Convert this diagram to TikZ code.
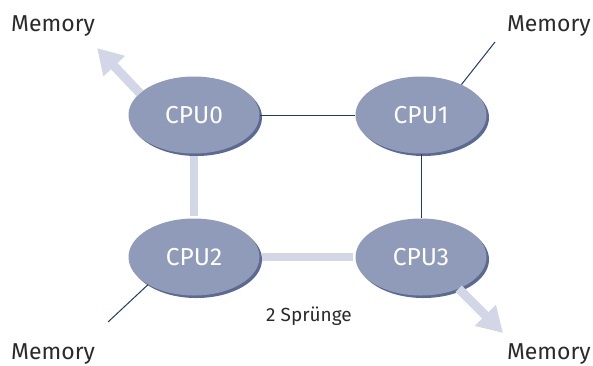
\documentclass[tikz,border=0pt]{standalone}
\usepackage{fontspec}
\setmainfont{Fira Sans}
\usetikzlibrary{arrows.meta,shapes.geometric}
\definecolor{cpufill}{HTML}{8F9BB8}
\definecolor{cpushade}{HTML}{5A6A92}
\definecolor{linkblue}{HTML}{1F3A6E}
\definecolor{paler}{HTML}{D3D6E6}
\definecolor{labeltext}{HTML}{2A2A2A}
\tikzset{
  cpu/.style={ellipse, fill=cpufill, minimum width=131pt, minimum height=77pt,
    inner sep=0pt, text=white, font=\fontsize{24.5}{24.5}\selectfont},
  cpushadow/.style={ellipse, fill=cpushade, minimum width=131pt, minimum height=77pt, inner sep=0pt},
  thinlink/.style={draw=linkblue, line width=1pt},
  thicklink/.style={draw=paler, line width=8pt},
  memarrow/.style={draw=paler, line width=9pt, -{Triangle[width=28pt,length=25pt]}},
  memlabel/.style={text=labeltext, font=\fontsize{23}{23}\selectfont, inner sep=0pt},
}
\begin{document}
\begin{tikzpicture}[x=1pt,y=-1pt]
\useasboundingbox (0,0) rectangle (593,365);
% free ends of the memory connections
\coordinate (m0) at (97,48);
\coordinate (m1) at (495,42);
\coordinate (m2) at (108,322);
\coordinate (m3) at (503,333);
% drop shadows of the processor ellipses
\foreach \x/\y in {194/115, 421/115, 194/257, 421/257}
  \node[cpushadow] at (\x+2.5,\y+2.5) {};
\node[cpu] (c0) at (194,115) {CPU0};
\node[cpu] (c1) at (421,115) {CPU1};
\node[cpu] (c2) at (194,257) {CPU2};
\node[cpu] (c3) at (421,257) {CPU3};
% links between processors
\draw[thinlink] (c0.east) -- (c1.west);
\draw[thinlink] (c1.south) -- (c3.north);
\draw[thicklink] ([yshift=-2pt]c0.south) -- ([yshift=2pt]c2.north);
\draw[thicklink] ([xshift=2pt]c2.east) -- ([xshift=-2pt]c3.west);
% memory connections
\draw[memarrow] (c0.158) -- (m0);
\draw[memarrow] (c3.-40) -- (m3);
\draw[thinlink] (c1.37) -- (m1);
\draw[thinlink] (c2.-149) -- (m2);
% labels
\node[memlabel, anchor=base west] (l0) at (11,31) {Memory};
\node[memlabel, anchor=base east] (l1) at (591,31) {Memory};
\node[memlabel, anchor=base west] (l2) at (11,359) {Memory};
\node[memlabel, anchor=base east] (l3) at (591,359) {Memory};
\node[text=labeltext, inner sep=0pt, anchor=base, font=\fontsize{19}{19}\selectfont] (hops) at (309,321) {2 Sprünge};
\end{tikzpicture}
\end{document}
